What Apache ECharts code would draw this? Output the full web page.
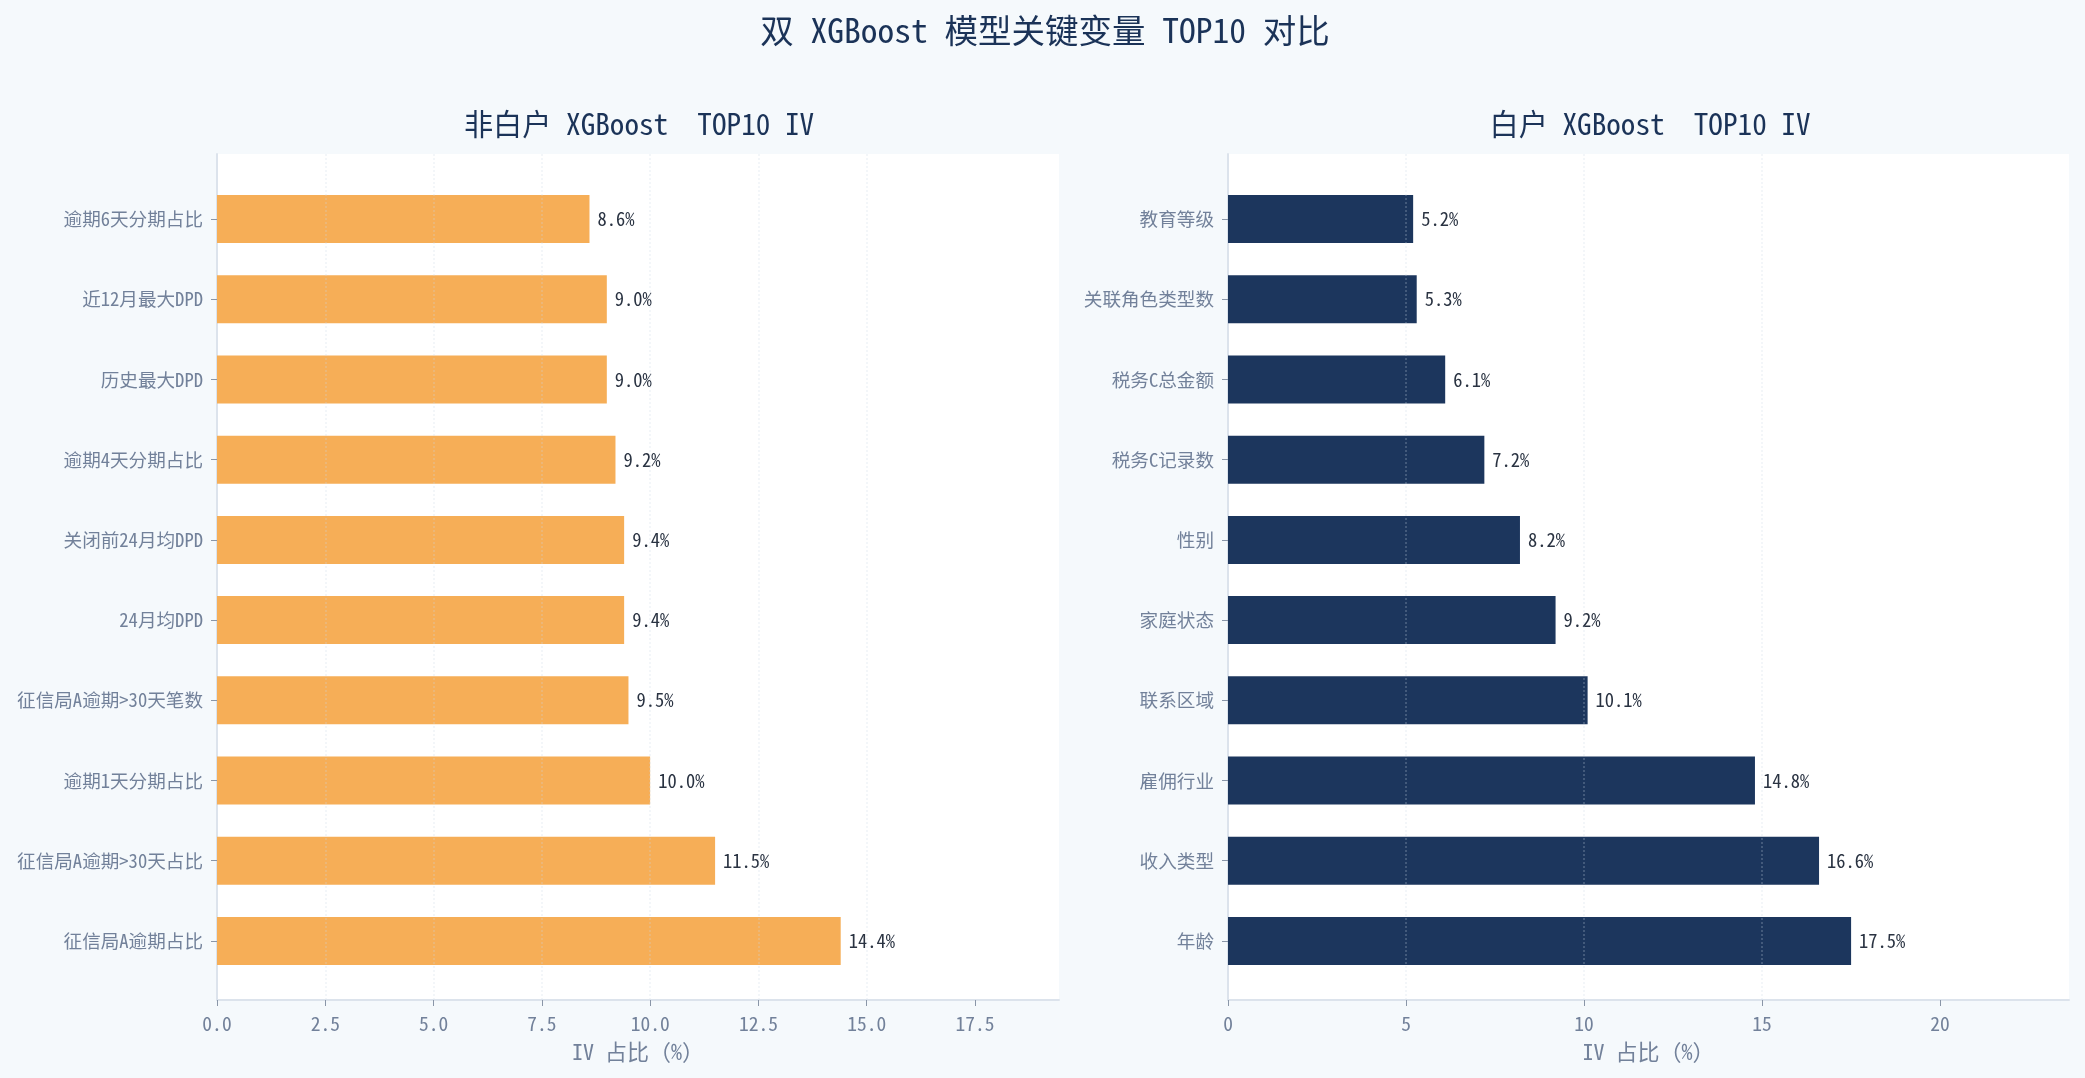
<!DOCTYPE html>
<html>
<head>
<meta charset="utf-8">
<title>双 XGBoost 模型关键变量 TOP10 对比</title>
<script src="https://cdn.jsdelivr.net/npm/echarts@6/dist/echarts.min.js"></script>
<style>
  html, body { margin: 0; padding: 0; background: #F5F9FC; }
  #chart { width: 2085px; height: 1078px; }
</style>
</head>
<body>
<div id="chart"></div>
<script>
// 非白户 (bottom -> top, as the category axis runs upward)
const nonWhiteNames = ['征信局A逾期占比', '征信局A逾期>30天占比', '逾期1天分期占比', '征信局A逾期>30天笔数', '24月均DPD',
  '关闭前24月均DPD', '逾期4天分期占比', '历史最大DPD', '近12月最大DPD', '逾期6天分期占比'];
const nonWhiteIV = [14.4, 11.5, 10.0, 9.5, 9.4, 9.4, 9.2, 9.0, 9.0, 8.6];

// 白户
const whiteNames = ['年龄', '收入类型', '雇佣行业', '联系区域', '家庭状态', '性别', '税务C记录数', '税务C总金额', '关联角色类型数', '教育等级'];
const whiteIV = [17.5, 16.6, 14.8, 10.1, 9.2, 8.2, 7.2, 6.1, 5.3, 5.2];

const leftTicks = [0, 2.5, 5, 7.5, 10, 12.5, 15, 17.5];
const rightTicks = [0, 5, 10, 15, 20];
const leftMax = 19.44;
const rightMax = 23.62;

const FONT = "'Noto Sans Mono CJK SC', 'Noto Sans CJK SC', monospace";
const NAVY = '#1B3358';
const GREY = '#72819A';

// outer frame (white plot area, spines, x ticks, grid lines) and inner band area (bars)
const frames = [
  { left: 217, right: 2085 - 1059 },
  { left: 1228, right: 16 },
];

function frameAxis(idx, max, ticks, fmt) {
  return {
    type: 'value',
    gridIndex: idx,
    min: 0,
    max: max,
    interval: ticks[1] - ticks[0],
    z: 3,
    name: 'IV 占比（%）',
    nameLocation: 'middle',
    nameGap: 41,
    nameTextStyle: { color: GREY, fontSize: 22, fontFamily: FONT },
    axisLine: { show: true, lineStyle: { color: '#DCE3EC', width: 2 } },
    axisTick: { show: true, length: 6, customValues: ticks, lineStyle: { color: '#8A96A8' } },
    axisLabel: {
      color: GREY, fontSize: 19.5, fontFamily: FONT, margin: 14,
      customValues: ticks,
      formatter: fmt,
    },
    splitLine: {
      show: true,
      showMinLine: false,
      showMaxLine: false,
      lineStyle: { color: 'rgba(205,214,228,0.3)', width: 1.5, type: [2, 2] },
    },
  };
}

function bandAxis(idx, max) {
  return {
    type: 'value', gridIndex: idx, min: 0, max: max, show: false,
  };
}

function catAxis(idx, names) {
  return {
    type: 'category',
    gridIndex: idx,
    data: names,
    axisLine: { show: false },
    axisTick: { show: true, alignWithLabel: true, length: 6, lineStyle: { color: '#8A96A8' } },
    axisLabel: { color: GREY, fontSize: 18.6, fontFamily: FONT, margin: 14 },
    splitLine: { show: false },
  };
}

function spineAxis(idx) {
  return {
    type: 'value',
    gridIndex: idx,
    min: 0,
    max: 1,
    axisLine: { show: true, lineStyle: { color: '#DCE3EC', width: 2 } },
    axisTick: { show: false },
    axisLabel: { show: false },
    splitLine: { show: false },
  };
}

function barSeries(idx, data, color) {
  return {
    type: 'bar',
    xAxisIndex: idx,
    yAxisIndex: idx,
    data: data,
    barWidth: 48,
    itemStyle: { color: color },
    label: {
      show: true,
      position: 'right',
      distance: 8,
      color: '#2A3342',
      fontSize: 18.5,
      fontFamily: FONT,
      formatter: (p) => p.value.toFixed(1) + '%',
    },
  };
}

const plotTop = 154;
const plotBottom = 1078 - 1000;

const option = {
  backgroundColor: '#F5F9FC',
  textStyle: { fontFamily: FONT },
  animation: false,
  title: [
    {
      text: '双 XGBoost 模型关键变量 TOP10 对比',
      left: 1040, top: 9, textAlign: 'center',
      textStyle: { color: NAVY, fontSize: 33.5, fontWeight: 'normal', fontFamily: FONT },
    },
    {
      text: '非白户 XGBoost  TOP10 IV',
      left: 634, top: 104, textAlign: 'center',
      textStyle: { color: NAVY, fontSize: 29.2, fontWeight: 'normal', fontFamily: FONT },
    },
    {
      text: '白户 XGBoost  TOP10 IV',
      left: 1645, top: 104, textAlign: 'center',
      textStyle: { color: NAVY, fontSize: 29.2, fontWeight: 'normal', fontFamily: FONT },
    },
  ],
  grid: [
    { left: frames[0].left, right: frames[0].right, top: plotTop, bottom: plotBottom, show: true, backgroundColor: '#FFFFFF', borderWidth: 0 },
    { left: frames[1].left, right: frames[1].right, top: plotTop, bottom: plotBottom, show: true, backgroundColor: '#FFFFFF', borderWidth: 0 },
    { left: frames[0].left, right: frames[0].right, top: plotTop + 25, bottom: plotBottom + 19 },
    { left: frames[1].left, right: frames[1].right, top: plotTop + 25, bottom: plotBottom + 19 },
  ],
  xAxis: [
    frameAxis(0, leftMax, leftTicks, (v) => v.toFixed(1)),
    frameAxis(1, rightMax, rightTicks, (v) => String(v)),
    bandAxis(2, leftMax),
    bandAxis(3, rightMax),
  ],
  yAxis: [
    spineAxis(0),
    spineAxis(1),
    catAxis(2, nonWhiteNames),
    catAxis(3, whiteNames),
  ],
  series: [
    barSeries(2, nonWhiteIV, '#F6AE57'),
    barSeries(3, whiteIV, '#1C365D'),
  ],
};

const echartInstance = echarts.init(document.getElementById('chart'));
echartInstance.setOption(option);
window.addEventListener('resize', () => {
  echartInstance.resize();
});
</script>
</body>
</html>
